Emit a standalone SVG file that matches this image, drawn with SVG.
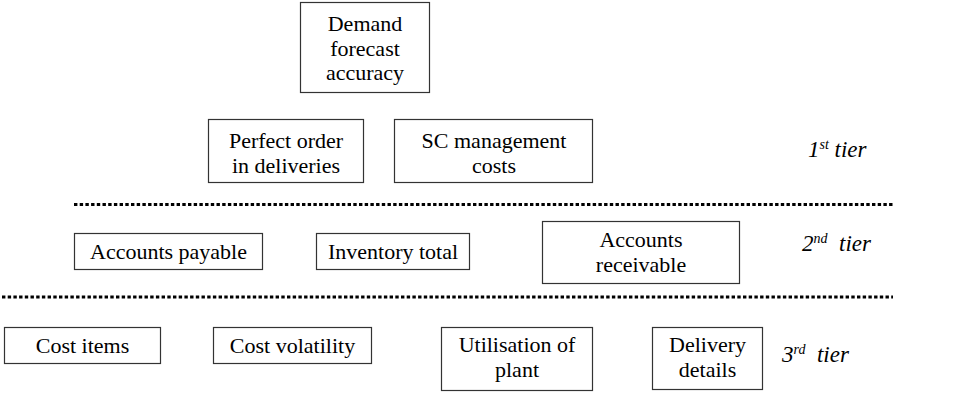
<svg xmlns="http://www.w3.org/2000/svg" width="970" height="406" viewBox="0 0 970 406">
<style>
.box{fill:#fff;stroke:#333;stroke-width:1.2}
.t{font-family:"Liberation Serif","Times New Roman",serif;font-size:22px;fill:#000;text-anchor:middle}
.tier{font-family:"Liberation Serif","Times New Roman",serif;font-size:23px;font-style:italic;fill:#000}
.sup{font-size:14px}
.sep{stroke:#000;stroke-width:3;stroke-dasharray:3.4 2.3;fill:none}
</style>
<rect width="970" height="406" fill="#fff"/>
<g id="connectors">
<line class="sep" x1="74" y1="204.5" x2="893" y2="204.5"/>
<line class="sep" x1="2" y1="297" x2="893" y2="297"/>
</g>
<g id="n-demand"><rect class="box" x="300.5" y="2.5" width="129" height="90"/>
<text class="t" x="365" y="31">Demand</text><text class="t" x="365" y="55.5">forecast</text><text class="t" x="365" y="80">accuracy</text></g>
<g id="n-perfect"><rect class="box" x="208.5" y="119.5" width="155" height="63"/>
<text class="t" x="286" y="148">Perfect order</text><text class="t" x="286" y="173">in deliveries</text></g>
<g id="n-sc"><rect class="box" x="394.5" y="119.5" width="198" height="63"/>
<text class="t" x="494" y="148">SC management</text><text class="t" x="494" y="173">costs</text></g>
<g id="n-payable"><rect class="box" x="74.5" y="233.5" width="188" height="36"/>
<text class="t" x="168.5" y="259">Accounts payable</text></g>
<g id="n-inventory"><rect class="box" x="316.5" y="233.5" width="153" height="36"/>
<text class="t" x="393" y="259">Inventory total</text></g>
<g id="n-receivable"><rect class="box" x="542.5" y="221.5" width="197" height="62"/>
<text class="t" x="641" y="247">Accounts</text><text class="t" x="641" y="272">receivable</text></g>
<g id="n-costitems"><rect class="box" x="4.5" y="327.5" width="156" height="36"/>
<text class="t" x="82.5" y="353">Cost items</text></g>
<g id="n-volatility"><rect class="box" x="213.5" y="327.5" width="158" height="36"/>
<text class="t" x="292.5" y="353">Cost volatility</text></g>
<g id="n-utilisation"><rect class="box" x="441.5" y="327.5" width="151" height="63"/>
<text class="t" x="517" y="352">Utilisation of</text><text class="t" x="517" y="377">plant</text></g>
<g id="n-delivery"><rect class="box" x="652.5" y="327.5" width="110" height="62"/>
<text class="t" x="707.5" y="352">Delivery</text><text class="t" x="707.5" y="377">details</text></g>
<g id="tiers">
<text class="tier" x="808" y="157">1<tspan class="sup" dy="-8">st</tspan><tspan dy="8"> tier</tspan></text>
<text class="tier" x="802" y="251" xml:space="preserve">2<tspan class="sup" dy="-8">nd</tspan><tspan dy="8">  tier</tspan></text>
<text class="tier" x="782" y="362" xml:space="preserve">3<tspan class="sup" dy="-8">rd</tspan><tspan dy="8">  tier</tspan></text>
</g>
</svg>
